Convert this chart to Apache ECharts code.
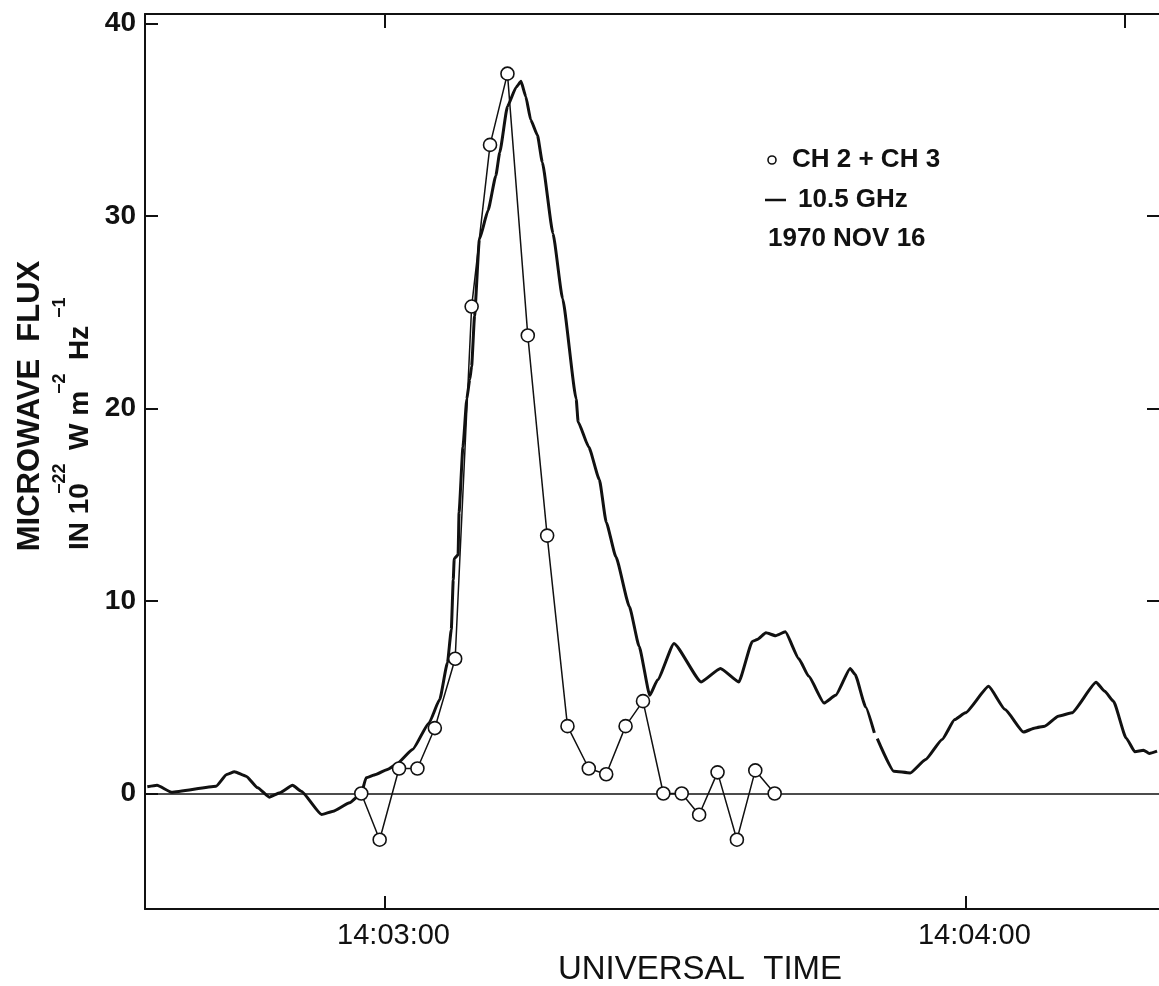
<!DOCTYPE html>
<html>
<head>
<meta charset="utf-8">
<script src="https://cdn.jsdelivr.net/npm/echarts@6/dist/echarts.min.js"></script>
<style>
html,body{margin:0;padding:0;background:#fff;}
#chart{width:1159px;height:986px;}
</style>
</head>
<body>
<div id="chart"></div>
<script>
// Time in seconds after 14:02:00 UT
const ch23Time = [57.6, 59.5, 61.5, 63.4, 65.2, 67.3, 69.0, 70.9, 72.7, 74.8, 76.8, 78.9, 81.1, 82.9, 84.9, 86.7, 88.8, 90.7, 92.5, 94.4, 96.4, 98.3, 100.3];
const ch23Flux = [0, -2.4, 1.3, 1.3, 3.4, 7.0, 25.3, 33.7, 37.4, 23.8, 13.4, 3.5, 1.3, 1.0, 3.5, 4.8, 0, 0, -1.1, 1.1, -2.4, 1.2, 0];

const ghzTime = [35.5, 36.5, 38.0, 42.6, 43.7, 44.5, 45.7, 46.9, 48.1, 49.2, 50.5, 51.4, 53.5, 54.7, 56.4, 57.6, 58.1, 59.1,
  60.3, 61.2, 62.9, 64.6, 65.7, 66.5, 66.9, 67.1, 67.2, 67.6, 67.7, 68.1, 68.5, 68.8, 69.0, 69.3, 69.8, 70.7, 71.5, 71.9,
  72.7, 73.6, 74.1, 74.6, 75.1, 75.8, 76.3, 77.4, 78.4, 79.8, 80.0, 81.1, 82.2, 82.9, 83.9, 85.3, 86.3, 87.4, 88.2, 89.9,
  92.7, 94.7, 96.6, 98.0, 98.5, 99.4, 100.4, 101.4, 102.8, 103.8, 105.4, 106.6, 108.1, 108.6, 109.7, 110.6, 110.75, 110.9,
  112.6, 114.3, 115.9, 117.6, 118.9, 120.0, 122.4, 124.1, 126.0, 127.2, 128.2, 129.6, 131.0, 133.5, 134.4, 135.3, 136.6,
  137.5, 138.4, 139.0, 139.8];
const ghzFlux = [0.35, 0.43, 0.07, 0.38, 0.99, 1.13, 0.90, 0.30, -0.19, 0.04, 0.43, 0.12, -1.09, -0.92, -0.48, 0, 0.82, 0.99,
  1.25, 1.51, 2.29, 3.67, 4.88, 6.79, 8.52, 11.1, 12.2, 12.4, 14.6, 18.0, 20.5, 21.5, 22.2, 24.8, 28.8, 30.3, 32.1, 33.3,
  35.7, 36.7, 37.0, 36.2, 35.0, 34.2, 32.8, 29.1, 25.7, 20.5, 19.3, 18.0, 16.3, 14.1, 12.3, 9.7, 7.65, 5.1, 5.9, 7.8,
  5.8, 6.5, 5.8, 7.9, 8.0, 8.35, 8.2, 8.4, 7.0, 6.1, 4.7, 5.1, 6.5, 6.2, 4.5, 3.15, '-', 2.85,
  1.16, 1.07, 1.77, 2.81, 3.84, 4.19, 5.57, 4.36, 3.19, 3.41, 3.50, 4.02, 4.19, 5.78, 5.31, 4.79, 2.89,
  2.17, 2.25, 2.08, 2.20];

const xTickValues = [60, 120];
const xTickLabels = ['14:03:00', '14:04:00'];
const xTopTickValues = [60, 136.5];
const yTickValues = [0, 10, 20, 30, 40];
const yRightTickValues = [10, 20, 30];

const FONT = '"Liberation Sans", Arial, sans-serif';
const INK = '#111';

const ch23Data = ch23Time.map((t, i) => [t, ch23Flux[i]]);
const ghzData = ghzTime.map((t, i) => [t, ghzFlux[i]]);

const chart = echarts.init(document.getElementById('chart'), null, {renderer: 'canvas'});

const rotText = (x, y, text, size) => ({
  type: 'text', x: x, y: y, rotation: Math.PI / 2, silent: true,
  style: {text: text, font: 'bold ' + size + 'px ' + FONT, fill: INK, align: 'left', verticalAlign: 'middle'}
});

const option = {
  backgroundColor: '#fff',
  animation: false,
  grid: {left: 145, top: 14, width: 1016, height: 895, containLabel: false},
  xAxis: [
    {
      type: 'value', position: 'bottom', min: 35.26, max: 140,
      axisLine: {show: true, onZero: false, lineStyle: {color: INK, width: 2}},
      axisTick: {show: true, inside: true, length: 13, customValues: xTickValues, lineStyle: {color: INK, width: 2}},
      axisLabel: {
        show: true, customValues: xTickValues, margin: 12, padding: [0, 0, 0, 18],
        color: INK, fontFamily: FONT, fontSize: 29,
        formatter: v => { const i = xTickValues.indexOf(v); return i >= 0 ? xTickLabels[i] : ''; }
      },
      splitLine: {show: false}
    },
    {
      type: 'value', position: 'top', min: 35.26, max: 140,
      axisLine: {show: true, onZero: false, lineStyle: {color: INK, width: 2}},
      axisTick: {show: true, inside: true, length: 14, customValues: xTopTickValues, lineStyle: {color: INK, width: 2}},
      axisLabel: {show: false},
      splitLine: {show: false}
    }
  ],
  yAxis: [
    {
      type: 'value', position: 'left', min: -6, max: 40.5,
      axisLine: {show: true, onZero: false, lineStyle: {color: INK, width: 2}},
      axisTick: {show: true, inside: true, length: 13, customValues: yTickValues, lineStyle: {color: INK, width: 2}},
      axisLabel: {show: true, customValues: yTickValues, margin: 9, color: INK, fontFamily: FONT, fontSize: 28, fontWeight: 'bold'},
      splitLine: {show: false}
    },
    {
      type: 'value', position: 'right', min: -6, max: 40.5,
      axisLine: {show: false},
      axisTick: {show: true, inside: true, length: 12, customValues: yRightTickValues, lineStyle: {color: INK, width: 2}},
      axisLabel: {show: false},
      splitLine: {show: false}
    }
  ],
  series: [
    {
      name: '10.5 GHz', type: 'line', data: ghzData, xAxisIndex: 0, yAxisIndex: 0,
      showSymbol: false, symbol: 'none', connectNulls: false, smooth: 0.15, smoothMonotone: 'x',
      lineStyle: {color: INK, width: 3}, z: 3,
      markLine: {
        silent: true, symbol: 'none', label: {show: false},
        lineStyle: {color: INK, width: 1.6, type: 'solid'},
        data: [{yAxis: 0}]
      }
    },
    {
      name: 'CH 2 + CH 3', type: 'line', data: ch23Data, xAxisIndex: 0, yAxisIndex: 0,
      symbol: 'circle', symbolSize: 13, showSymbol: true,
      lineStyle: {color: INK, width: 1.5},
      itemStyle: {color: '#fff', borderColor: INK, borderWidth: 1.6}, z: 5
    }
  ],
  graphic: [
    // legend block
    {type: 'circle', shape: {cx: 772, cy: 160, r: 4}, silent: true, style: {fill: '#fff', stroke: INK, lineWidth: 1.6}},
    {type: 'text', x: 792, y: 160, silent: true, style: {text: 'CH 2 + CH 3', font: 'bold 26px ' + FONT, fill: INK, align: 'left', verticalAlign: 'middle'}},
    {type: 'line', shape: {x1: 765, y1: 200, x2: 786, y2: 200}, silent: true, style: {stroke: INK, lineWidth: 2.5}},
    {type: 'text', x: 798, y: 200, silent: true, style: {text: '10.5 GHz', font: 'bold 26px ' + FONT, fill: INK, align: 'left', verticalAlign: 'middle'}},
    {type: 'text', x: 768, y: 239, silent: true, style: {text: '1970 NOV 16', font: 'bold 26px ' + FONT, fill: INK, align: 'left', verticalAlign: 'middle'}},
    // x axis title
    {type: 'text', x: 700, y: 970, silent: true, style: {text: 'UNIVERSAL  TIME', font: '33px ' + FONT, fill: INK, align: 'center', verticalAlign: 'middle'}},
    // y axis title
    {type: 'text', x: 30, y: 406, rotation: Math.PI / 2, silent: true,
      style: {text: 'MICROWAVE  FLUX', font: 'bold 31px ' + FONT, fill: INK, align: 'center', verticalAlign: 'middle'}},
    rotText(80, 550, 'IN 10', 28),
    rotText(60, 494, '\u221222', 18),
    rotText(80, 450, 'W m', 28),
    rotText(60, 394, '\u22122', 18),
    rotText(80, 360, 'Hz', 28),
    rotText(60, 318, '\u22121', 18)
  ]
};

chart.setOption(option);
</script>
</body>
</html>
